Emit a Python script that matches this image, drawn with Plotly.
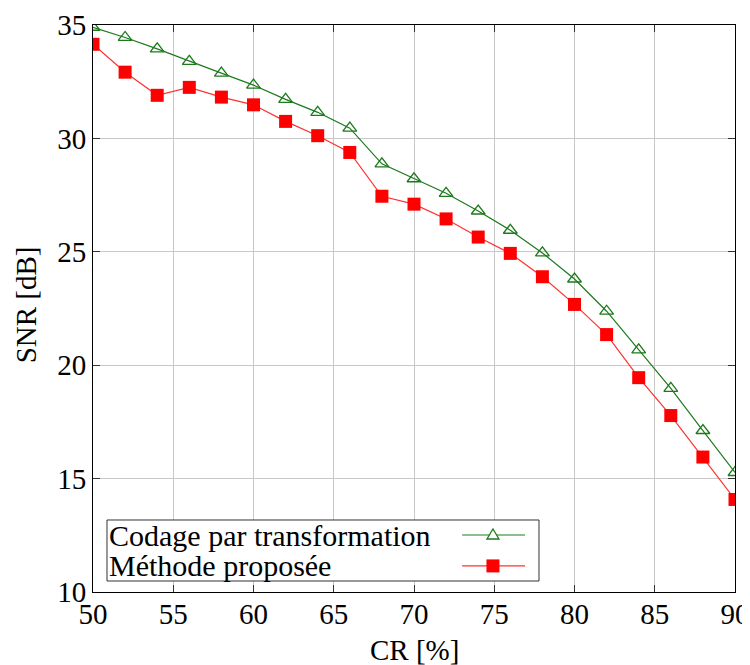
import plotly.graph_objects as go

cr = [50, 52, 54, 56, 58, 60, 62, 64, 66, 68, 70, 72, 74, 76, 78, 80, 82, 84, 86, 88, 90]
snr_transform = [34.9, 34.45, 33.95, 33.4, 32.88, 32.35, 31.72, 31.15, 30.45, 28.88, 28.22,
                 27.58, 26.8, 25.95, 24.95, 23.8, 22.38, 20.68, 18.98, 17.12, 15.27]
snr_proposed = [34.15, 32.92, 31.9, 32.25, 31.82, 31.48, 30.75, 30.12, 29.38, 27.45, 27.1,
                26.45, 25.65, 24.93, 23.9, 22.68, 21.35, 19.45, 17.78, 15.95, 14.08]
names = ["Codage par transformation", "Méthode proposée"]
x_title = "CR [%]"
y_title = "SNR [dB]"
x_ticks = [50, 55, 60, 65, 70, 75, 80, 85, 90]
y_ticks = [10, 15, 20, 25, 30, 35]

GREEN = "#1c7a1c"
RED_LINE = "#ff3030"
RED = "#ff0000"
FONT = "'Liberation Serif', 'Times New Roman', serif"
FS = 29
FS_LEG = 30

fig = go.Figure()
fig.add_trace(go.Scatter(x=cr, y=snr_transform, mode="lines+markers", name=names[0],
                         line=dict(color=GREEN, width=1.2),
                         marker=dict(symbol="triangle-up-open", size=12, color=GREEN,
                                     line=dict(width=1.3, color=GREEN))))
fig.add_trace(go.Scatter(x=cr, y=snr_proposed, mode="lines+markers", name=names[1],
                         line=dict(color=RED_LINE, width=1.2),
                         marker=dict(symbol="square", size=13, color=RED,
                                     line=dict(width=0))))

axis_common = dict(showline=True, linecolor="black", linewidth=1, mirror="ticks",
                   ticks="inside", ticklen=7, tickwidth=1.3, tickcolor="#333333",
                   showgrid=True, gridcolor="#c8c8c8", gridwidth=1, zeroline=False,
                   automargin=False,
                   tickfont=dict(family=FONT, size=FS, color="black"))

fig.update_xaxes(range=[50, 90], tickvals=x_ticks, ticklabelstandoff=-4, **axis_common)
fig.update_yaxes(range=[10, 35], tickvals=y_ticks, **axis_common)

# axis titles
fig.add_annotation(xref="paper", yref="paper", x=0.5, y=-0.102, xanchor="center",
                   yanchor="middle", showarrow=False, text=x_title,
                   font=dict(family=FONT, size=FS, color="black"))
fig.add_annotation(xref="paper", yref="paper", x=-0.104, y=0.506, xanchor="center",
                   yanchor="middle", showarrow=False, text=y_title, textangle=-90,
                   font=dict(family=FONT, size=FS, color="black"))

# custom legend (text on the left, sample on the right, as in the reference)
box = dict(x0=0.0218, x1=0.6947, y0=0.0194, y1=0.127)
fig.add_shape(type="rect", xref="x domain", yref="y domain", layer="above",
              fillcolor="white", line=dict(color="#333333", width=1), **box)
rows = [0.1005, 0.046]
sx0, sx1, sxm = 0.575, 0.673, 0.623
styles = [(GREEN, "tri"), (RED_LINE, "sq")]
for name, ry, (col, kind) in zip(names, rows, styles):
    fig.add_annotation(xref="x domain", yref="y domain", x=0.0215, y=ry,
                       xanchor="left", yanchor="middle", showarrow=False, text=name,
                       font=dict(family=FONT, size=FS_LEG, color="black"))
    fig.add_shape(type="line", xref="x domain", yref="y domain", x0=sx0, x1=sx1,
                  y0=ry, y1=ry, line=dict(color=col, width=1.2), layer="above")
    if kind == "tri":
        fig.add_shape(type="path", xref="x domain", yref="y domain",
                      xsizemode="pixel", ysizemode="pixel", xanchor=sxm, yanchor=ry,
                      path="M -6,-4 L 6,-4 L 0,6 Z", fillcolor="white",
                      line=dict(color=GREEN, width=1.3), layer="above")
    else:
        fig.add_shape(type="rect", xref="x domain", yref="y domain",
                      xsizemode="pixel", ysizemode="pixel", xanchor=sxm, yanchor=ry,
                      x0=-6.5, x1=6.5, y0=-6.5, y1=6.5, fillcolor=RED,
                      line=dict(width=0), layer="above")

fig.update_layout(width=750, height=665, showlegend=False,
                  paper_bgcolor="white", plot_bgcolor="white",
                  margin=dict(l=85, r=23, t=17, b=81),
                  font=dict(family=FONT, color="black"))

fig.write_html("out.html")
